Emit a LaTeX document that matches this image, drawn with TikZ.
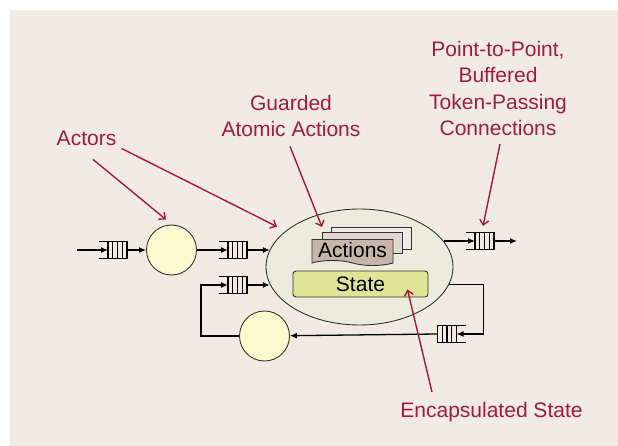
\documentclass[tikz,border=0pt]{standalone}
\usepackage{fontspec}
\setmainfont{Liberation Sans}
\usetikzlibrary{positioning,shapes.geometric,shapes.symbols,arrows.meta,calc}

\definecolor{paper}{RGB}{242,235,226}
\definecolor{crim}{RGB}{160,28,60}
\definecolor{actorfill}{RGB}{254,250,208}
\definecolor{ellfill}{RGB}{236,236,222}
\definecolor{statefill}{RGB}{222,230,150}
\definecolor{sheetA}{RGB}{200,181,170}
\definecolor{sheetB}{RGB}{227,214,208}
\definecolor{sheetC}{RGB}{239,235,232}

\tikzset{
  actor/.style={circle,draw=black!80,fill=actorfill,minimum size=50pt,inner sep=0pt,line width=0.9pt},
  fifo/.style={rectangle,minimum width=28pt,minimum height=17pt,inner sep=0pt,outer sep=0pt},
  flow/.style={-{Latex[length=7pt,width=6pt]},line width=1.3pt},
  link/.style={line width=1.3pt},
  slot/.style={line width=1.2pt},
  callout/.style={crim,line width=1.4pt,-{Straight Barb[length=5pt,width=9pt]}},
  lbl/.style={text=crim,font=\fontsize{21}{26.5}\selectfont,align=center,inner sep=2pt,anchor=base},
  sheet/.style={draw=black!80,line width=0.9pt,minimum width=80pt,minimum height=22pt}
}

\begin{document}
\begin{tikzpicture}[x=1pt,y=-1pt,font=\fontsize{21}{25}\selectfont]
	\useasboundingbox (0,0) rectangle (618,446);
	\fill[paper] (10,10) rectangle (618,446);

	% actors and queues
	\node[actor] (a1) at (171.5,250) {};
	\node[fifo, left=19pt of a1] (qa) {};
	\coordinate[left=22pt of qa] (src);
	\node[fifo, right=22pt of a1] (qb) {};
	\node[fifo, below=18pt of qb] (qc) {};
	\node[actor] (a2) at (264.5,336) {};

	\node[ellipse,draw=black!80,fill=ellfill,line width=0.9pt,minimum width=187pt,minimum height=116pt,inner sep=0pt] (act) at (359.5,267) {};
	\node[sheet,fill=sheetC] (back) at (371,238) {};
	\node[sheet,fill=sheetB,minimum height=21pt] (mid) at (362,242.5) {};
	\node[tape,draw=black!80,fill=sheetA,line width=0.9pt,tape bend top=none,tape bend bottom=out and in,tape bend height=5pt,minimum width=81pt,minimum height=26pt,inner sep=1pt] (acts) at (352.5,250) {Actions};
	\node[draw=black!80,fill=statefill,rounded corners=3pt,line width=0.9pt,minimum width=135pt,minimum height=26pt,inner sep=0pt] (state) at (360.5,284) {State};

	\node[fifo] (qd) at (480,241) {};
	\coordinate[right=23pt of qd] (sink);
	\node[fifo] (qe) at (451.5,334) {};

	% queue slots
	\foreach \q in {qa,qb,qc,qd}{
		\draw[slot] (\q.north west) -- (\q.north east) -- (\q.south east) -- (\q.south west);
		\foreach \f in {0.32,0.49,0.66,0.83}
			\draw[slot] ($(\q.north west)!\f!(\q.north east)$) -- ($(\q.south west)!\f!(\q.south east)$);
	}
	\draw[slot] (qe.north east) -- (qe.north west) -- (qe.south west) -- (qe.south east);
	\foreach \f in {0.17,0.34,0.51,0.68}
		\draw[slot] ($(qe.north west)!\f!(qe.north east)$) -- ($(qe.south west)!\f!(qe.south east)$);

	% connections
	\draw[flow] (src) -- ([xshift=9pt]qa.west);
	\draw[flow] (qa.east) -- (a1);
	\draw[flow] (a1) -- ([xshift=9pt]qb.west);
	\draw[flow] (qb.east) -- (act.169 |- qb);
	\draw[flow] (a2.west) -| ([xshift=-18pt]qc.west) -- ([xshift=9pt]qc.west);
	\draw[flow] (qc.east) -- (act.191 |- qc);
	\draw[flow] (act.17 |- qd) -- ([xshift=9pt]qd.west);
	\draw[flow] (qd.east) -- (sink);
	\draw[flow] (act.-11) -| ([xshift=18pt]qe.east) -- ([xshift=-9pt]qe.east);
	\draw[flow] (qe.west) -- (a2);

	% labels
	\node[lbl] (lactors) at (86.5,146) {Actors};
	\node[lbl] (lguard) at (291,137) {Guarded\\Atomic Actions};
	\node[lbl] (lp2p) at (498,136) {Point-to-Point,\\Buffered\\Token-Passing\\Connections};
	\node[lbl] (lenc) at (491.5,417) {Encapsulated State};

	\draw[callout] ([xshift=6.5pt,yshift=-11pt]lactors.south) -- ([xshift=-5.5pt,yshift=5pt]a1.north);
	\draw[callout] ([xshift=3pt]lactors.south east) -- ([xshift=-16pt,yshift=-1pt]act.north west);
	\draw[callout] ([xshift=-1pt,yshift=-7pt]lguard.south) -- ([xshift=-30.5pt,yshift=12pt]acts.north);
	\draw[callout] ([xshift=2pt,yshift=-5.5pt]lp2p.south) -- ([xshift=3pt,yshift=6.5pt]qd.north);
	\draw[callout] ([xshift=-59.5pt,yshift=7.5pt]lenc.north) -- ([xshift=-21pt,yshift=8pt]state.south east);
\end{tikzpicture}
\end{document}
